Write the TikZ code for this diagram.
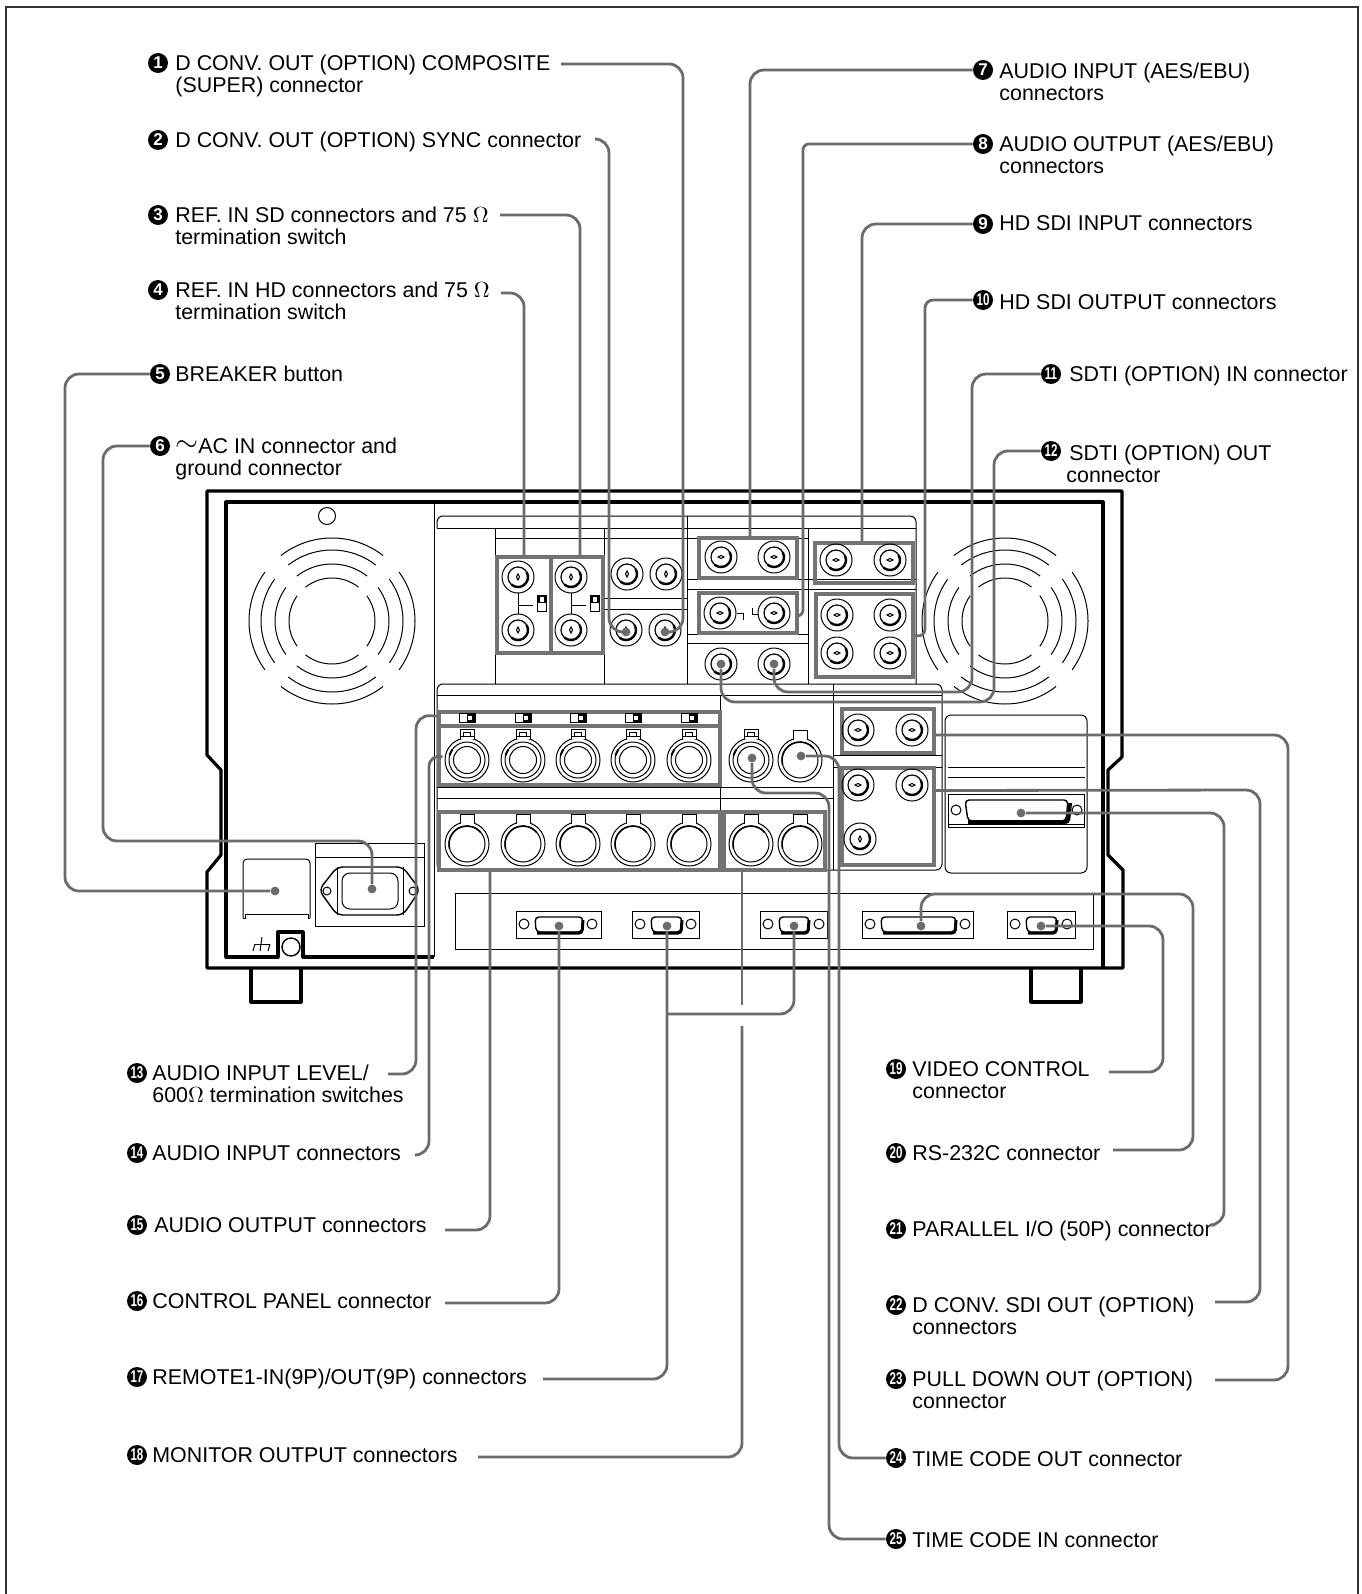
\documentclass[tikz,border=0pt]{standalone}
\usepackage{fontspec}
\setmainfont{Liberation Sans}
\usetikzlibrary{fit}
\definecolor{leadergray}{gray}{0.42}
\definecolor{boxgray}{gray}{0.45}
\tikzstyle{lab} = [anchor=north west, 
inner sep=0pt, 
yshift=4pt, 
align=left, 
font=\fontsize{10.7}{11}\selectfont, 
execute at begin node=\strut]
\tikzstyle{bullet} = [circle, 
fill=black, 
text=white, 
inner sep=0pt, 
minimum size=10pt, 
font=\fontsize{8.5}{9}\selectfont\bfseries]
\tikzstyle{enddot} = [circle, 
fill=leadergray, 
inner sep=0pt, 
minimum size=4.4pt]
\tikzstyle{greybox} = [rectangle, 
draw=boxgray, 
line width=1.6pt, 
inner sep=0pt]
\tikzstyle{leader} = [draw=leadergray, 
line width=1.4pt, 
rounded corners=7pt]
\tikzstyle{thinline} = [line width=0.5pt]
\tikzstyle{heavy} = [line width=1.6pt, line join=round]
\newcommand{\nn}[1]{\scalebox{0.68}[1]{#1}}
\newcommand{\bnc}[3]{
\draw [thinline] (#1,#2) circle [radius=16];
\draw [line width=0.6pt] (#1,#2) circle [radius=10];
\draw [line width=1.2pt] (#1,#2) ++(-30:10) arc [start angle=-30, end angle=130, radius=10];
\draw [thinline, shift={(#1,#2)}, rotate=#3] (-3,0) -- (0,-1.5) -- (3,0) -- (0,1.5) -- cycle;
}
\newcommand{\xlrtop}[2]{
\draw [thinline] (#1,#2) circle [radius=22];
\draw [thinline] (#1,#2) circle [radius=18];
\draw [thinline] (#1,#2) circle [radius=13.5];
\draw [thinline, fill=white] (#1-7,#2-21) -- (#1-7,#2-31) -- (#1+7,#2-31) -- (#1+7,#2-21);
\draw [thinline] (#1-3.5,#2-28) rectangle (#1+3.5,#2-24);
\draw [line width=1pt] (#1,#2) ++(195:18) arc [start angle=195, end angle=215, radius=18];
\draw [thinline] (#1-7,#2+7-31) -- (#1+7,#2+7-31);
}
\newcommand{\xlrbot}[2]{
\draw [thinline] (#1,#2) circle [radius=22];
\draw [thinline] (#1,#2) circle [radius=18];
\draw [line width=0.8pt] (#1,#2) ++(165:18) arc [start angle=165, end angle=320, radius=18];
\draw [thinline, fill=white] (#1-7,#2-20) -- (#1-7,#2-30) -- (#1+7,#2-30) -- (#1+7,#2-20);
}
\newcommand{\hswitch}[2]{
\draw [thinline] (#1-8,#2-4.5) rectangle (#1+8,#2+4.5);
\fill (#1,#2-4.5) rectangle (#1+8,#2+4.5);
\fill [white] (#1+1,#2-2.5) rectangle (#1+5,#2+1.5);
}
\newcommand{\vswitch}[2]{
\draw [thinline] (#1-4.5,#2-8) rectangle (#1+4.5,#2+8);
\fill (#1-4.5,#2-8) rectangle (#1+4.5,#2);
\fill [white] (#1-2.5,#2-6) rectangle (#1+1.5,#2-1.5);
}
\newcommand{\dport}[6]{
\draw [thinline] (#1,911) rectangle (#2,938);
\draw [thinline] (#3,924) circle [radius=5];
\draw [thinline] (#4,924) circle [radius=5];
\draw [line width=0.7pt, rounded corners=2pt] (#5,917) -- (#6,917) -- (#6-1,932) -- (#5+1,932) -- cycle;
\draw [line width=1.5pt, rounded corners=1.5pt] (#5+2,933) -- (#6-1,933) -- (#6,920);
}
\newcommand{\fanring}[3]{
\draw [thinline] (#1,#2) ++(52:#3) arc [start angle=52, end angle=128, radius=#3];
\draw [thinline] (#1,#2) ++(232:#3) arc [start angle=232, end angle=308, radius=#3];
\draw [thinline] (#1,#2) ++(-36:#3) arc [start angle=-36, end angle=36, radius=#3];
\draw [thinline] (#1,#2) ++(144:#3) arc [start angle=144, end angle=216, radius=#3];
}
\newcommand{\fan}[2]{
\fanring{#1}{#2}{83}
\fanring{#1}{#2}{71}
\fanring{#1}{#2}{57}
\fanring{#1}{#2}{43}
}

\begin{document}
\begin{tikzpicture}[x=0.5pt,y=-0.5pt]
\useasboundingbox (0,0) rectangle (1361,1594);

% Frame
\draw [line width=0.8pt,draw=black!80] (6,1594) -- (6,7) -- (1358,7) -- (1358,1594);

% Body
\draw [heavy] (207,968) -- (207,872) -- (221,855) -- (221,770) -- (207,755) -- (207,491) -- (1122,491) -- (1122,757) -- (1108,770) -- (1108,855) -- (1123,870) -- (1123,968) -- cycle;
\draw [heavy] (1103,968) -- (1103,502) -- (226,502) -- (226,957) -- (278,957) -- (278,932) -- (303,932) -- (303,957) -- (434,957);
\draw [thinline] (434,502) -- (434,957);
\draw [heavy] (251,968) -- (251,1002) -- (301,1002) -- (301,968);
\draw [heavy] (1031,968) -- (1031,1002) -- (1081,1002) -- (1081,968);
\draw [thinline] (327,516) circle [radius=8.5];
\fan{332}{621}
\fan{1005}{621}

% Upper panel
\draw [thinline, rounded corners=3pt] (437,528) -- (437,516) -- (916,516) -- (916,684);
\draw [thinline] (437,528) -- (916,528);
\draw [thinline] (495,528) -- (495,684);
\draw [thinline] (604,528) -- (604,684);
\draw [thinline] (687,516) -- (687,684);
\draw [thinline] (808,528) -- (808,684);
\draw [thinline] (495,538) -- (808,538);
\draw [thinline] (604,598) -- (687,598);
\draw [thinline] (604,609) -- (687,609);
\draw [thinline] (687,579) -- (916,579);
\draw [thinline] (687,589) -- (916,589);
\draw [thinline] (687,634) -- (808,634);
\draw [thinline] (687,643) -- (808,643);
\node (boxrefhd) [greybox, fit={(497,557) (551,653)}] {};
\node (boxrefsd) [greybox, fit={(551,557) (603,653)}] {};
\node (boxaudioin) [greybox, fit={(699,538) (797,578)}] {};
\node (boxaudioout) [greybox, fit={(699,593) (797,633)}] {};
\node (boxhdin) [greybox, fit={(815,543) (913,583)}] {};
\node (boxhdout) [greybox, fit={(816,594) (913,677)}] {};
\bnc{518}{577}{90}
\bnc{518}{630}{90}
\bnc{571}{577}{90}
\bnc{571}{630}{90}
\bnc{627}{574}{90}
\bnc{666}{574}{90}
\bnc{626}{630}{90}
\bnc{665}{630}{90}
\bnc{721}{557}{0}
\bnc{774}{557}{0}
\bnc{720}{613}{0}
\bnc{774}{613}{0}
\bnc{836}{560}{0}
\bnc{890}{560}{0}
\bnc{837}{615}{0}
\bnc{890}{615}{0}
\bnc{837}{653}{0}
\bnc{890}{653}{0}
\bnc{721}{664}{0}
\bnc{774}{664}{0}
\vswitch{542}{603}
\vswitch{595}{603}
\draw [thinline] (518,593) -- (518,614);
\draw [thinline] (518,605) -- (533,605);
\draw [thinline] (571,593) -- (571,614);
\draw [thinline] (571,605) -- (586,605);
\draw [thinline] (737,613) -- (743,613) -- (743,620);
\draw [thinline] (752,608) -- (752,614) -- (758,614);

% Lower panel
\draw [thinline, rounded corners=3pt] (437,870) -- (437,684) -- (942,684) -- (942,870) -- cycle;
\draw [thinline] (437,695) -- (942,695);
\draw [thinline] (720,695) -- (720,870);
\draw [thinline] (833,684) -- (833,870);
\draw [thinline] (437,787) -- (833,787);
\draw [thinline] (437,798) -- (833,798);
\draw [thinline] (833,755) -- (942,755);
\draw [thinline] (833,767) -- (942,767);
\node (boxlevel) [greybox, fit={(439,712) (720,726)}] {};
\node (boxxlrin) [greybox, fit={(439,726) (720,785)}] {};
\node (boxxlrout) [greybox, fit={(439,812) (720,870)}] {};
\node (boxmonitor) [greybox, fit={(724,812) (825,870)}] {};
\node (boxpulldown) [greybox, fit={(842,709) (934,753)}] {};
\node (boxdsdi) [greybox, fit={(842,768) (934,865)}] {};
\hswitch{467}{718}
\hswitch{523}{718}
\hswitch{578}{718}
\hswitch{633}{718}
\hswitch{689}{718}
\xlrtop{467}{760}
\xlrtop{523}{760}
\xlrtop{578}{760}
\xlrtop{633}{760}
\xlrtop{689}{760}
\xlrtop{751}{760}
\xlrbot{800}{760}
\xlrbot{467}{844}
\xlrbot{523}{844}
\xlrbot{578}{844}
\xlrbot{633}{844}
\xlrbot{689}{844}
\xlrbot{751}{844}
\xlrbot{800}{844}
\bnc{858}{730}{0}
\bnc{912}{730}{0}
\bnc{858}{785}{0}
\bnc{912}{785}{0}
\bnc{860}{839}{90}

% Parallel panel
\draw [thinline, rounded corners=3pt] (945,715) rectangle (1087,873);
\draw [thinline] (948,767) -- (1085,767);
\draw [thinline] (948,777) -- (1085,777);
\draw [thinline] (948,794) rectangle (1084,827);
\draw [thinline] (948,824) -- (1084,824);
\draw [thinline] (956,810) circle [radius=5];
\draw [thinline] (1077,810) circle [radius=5];
\draw [line width=0.7pt, rounded corners=2pt] (965,800) -- (1068,800) -- (1066,821) -- (968,821) -- cycle;
\draw [line width=2pt, rounded corners=1.5pt] (968,822) -- (1068,822) -- (1070,803);

% Rear connectors
\draw [thinline] (455,893) rectangle (1093,949);
\dport{516}{601}{524}{592}{535}{583}
\dport{632}{699}{640}{691}{651}{682}
\dport{760}{827}{768}{819}{779}{809}
\dport{862}{973}{870}{965}{881}{956}
\dport{1007}{1075}{1015}{1067}{1026}{1057}

% Power
\draw [thinline, rounded corners=2pt] (243,918) -- (243,859) -- (310,859) -- (310,918);
\draw [thinline] (243,918) -- (245,918) -- (245,914) -- (308,914) -- (308,918) -- (310,918);
\draw [thinline] (315,843) rectangle (424,926);
\draw [thinline] (315,857) -- (424,857);
\draw [line width=0.7pt, rounded corners=3pt] (337,867) -- (403,867) -- (420,890) -- (403,915) -- (337,915) -- (319,890) -- cycle;
\draw [thinline] (337,867) -- (337,915);
\draw [thinline] (403,867) -- (403,915);
\draw [thinline, rounded corners=4pt] (342,873) rectangle (398,909);
\draw [thinline] (327,891) circle [radius=4];
\draw [thinline] (413,891) circle [radius=4];
\draw [line width=0.7pt] (291,947) circle [radius=9];
\draw [thinline] (255,944) -- (270,944);
\draw [thinline] (262,937) -- (260,951);
\draw [thinline] (255,944) -- (253,951);
\draw [thinline] (270,944) -- (268,951);

% Nodes
\node (compositenum) [bullet] at (158,63) {1};
\node (composite) [lab] at (175,63) {D CONV. OUT (OPTION) COMPOSITE\\(SUPER) connector};
\node (syncnum) [bullet] at (158,140) {2};
\node (sync) [lab] at (175,140) {D CONV. OUT (OPTION) SYNC connector};
\node (refsdnum) [bullet] at (158,215) {3};
\node (refsd) [lab] at (175,215) {REF. IN SD connectors and 75 $\Omega$\\termination switch};
\node (refhdnum) [bullet] at (158,290) {4};
\node (refhd) [lab] at (175,290) {REF. IN HD connectors and 75 $\Omega$\\termination switch};
\node (breakernum) [bullet] at (160,374) {5};
\node (breaker) [lab] at (175,374) {BREAKER button};
\node (acinnum) [bullet] at (160,446) {6};
\node (acin) [lab] at (175,446) {\raisebox{1pt}{\scalebox{1.35}{$\sim$}}AC IN connector and\\ground connector};
\node (audioinnum) [bullet] at (983,70) {7};
\node (audioin) [lab] at (999,71) {AUDIO INPUT (AES/EBU)\\connectors};
\node (audiooutnum) [bullet] at (983,144) {8};
\node (audioout) [lab] at (999,144) {AUDIO OUTPUT (AES/EBU)\\connectors};
\node (hdinnum) [bullet] at (983,224) {9};
\node (hdin) [lab] at (999,223) {HD SDI INPUT connectors};
\node (hdoutnum) [bullet] at (983,300) {\nn{10}};
\node (hdout) [lab] at (999,302) {HD SDI OUTPUT connectors};
\node (sdtiinnum) [bullet] at (1051,374) {\nn{11}};
\node (sdtiin) [lab] at (1069,374) {SDTI (OPTION) IN connector};
\node (sdtioutnum) [bullet] at (1051,451) {\nn{12}};
\node (sdtiout) [lab] at (1069,453) {SDTI (OPTION) OUT\\\hspace*{-1.5pt}connector};
\node (levelnum) [bullet] at (137,1073) {\nn{13}};
\node (level) [lab] at (152,1073) {AUDIO INPUT LEVEL/\\600$\Omega$ termination switches};
\node (xlrinnum) [bullet] at (137,1153) {\nn{14}};
\node (xlrin) [lab] at (152,1153) {AUDIO INPUT connectors};
\node (xlroutnum) [bullet] at (137,1225) {\nn{15}};
\node (xlrout) [lab] at (154,1225) {AUDIO OUTPUT connectors};
\node (panelnum) [bullet] at (137,1301) {\nn{16}};
\node (panel) [lab] at (152,1301) {CONTROL PANEL connector};
\node (remotenum) [bullet] at (137,1377) {\nn{17}};
\node (remote) [lab] at (152,1377) {REMOTE1-IN(9P)/OUT(9P) connectors};
\node (monitornum) [bullet] at (137,1455) {\nn{18}};
\node (monitor) [lab] at (152,1455) {MONITOR OUTPUT connectors};
\node (videonum) [bullet] at (896,1069) {\nn{19}};
\node (video) [lab] at (912,1069) {VIDEO CONTROL\\connector};
\node (rsnum) [bullet] at (896,1153) {\nn{20}};
\node (rs) [lab] at (912,1153) {RS-232C connector};
\node (parallelnum) [bullet] at (896,1229) {\nn{21}};
\node (parallel) [lab] at (912,1229) {PARALLEL I/O (50P) connector};
\node (dsdinum) [bullet] at (896,1305) {\nn{22}};
\node (dsdi) [lab] at (912,1305) {D CONV. SDI OUT (OPTION)\\connectors};
\node (pulldownnum) [bullet] at (896,1379) {\nn{23}};
\node (pulldown) [lab] at (912,1379) {PULL DOWN OUT (OPTION)\\connector};
\node (tcoutnum) [bullet] at (896,1458) {\nn{24}};
\node (tcout) [lab] at (912,1459) {TIME CODE OUT connector};
\node (tcinnum) [bullet] at (896,1539) {\nn{25}};
\node (tcin) [lab] at (912,1540) {TIME CODE IN connector};

% Leader dots
\node (compositedot) [enddot] at (665,632) {};
\node (syncdot) [enddot] at (626,632) {};
\node (breakerdot) [enddot] at (275,891) {};
\node (acdot) [enddot] at (372,889) {};
\node (sdtiindot) [enddot] at (774,664) {};
\node (sdtioutdot) [enddot] at (721,664) {};
\node (paneldot) [enddot] at (559,926) {};
\node (remotedot) [enddot] at (667,926) {};
\node (remotetwodot) [enddot] at (794,926) {};
\node (videodot) [enddot] at (1041,926) {};
\node (rsdot) [enddot] at (921,926) {};
\node (paralleldot) [enddot] at (1021,813) {};
\node (tcoutdot) [enddot] at (801,756) {};
\node (tcindot) [enddot] at (752,758) {};

% Free ends
\coordinate (compositeend) at (561,64);
\coordinate (syncend) at (595,139);
\coordinate (refsdend) at (500,215);
\coordinate (refhdend) at (501,293);
\coordinate (levelend) at (388,1074);
\coordinate (xlrinend) at (417,1155);
\coordinate (xlroutend) at (445,1230);
\coordinate (panelend) at (445,1303);
\coordinate (remoteend) at (543,1379);
\coordinate (remotejoin) at (667,1014);
\coordinate (monitorend) at (478,1457);
\coordinate (monitorlow) at (742,1026);
\coordinate (monitorhigh) at (742,1005);
\coordinate (videoend) at (1109,1072);
\coordinate (rsend) at (1113,1150);
\coordinate (parallelend) at (1215,1225);
\coordinate (dsdiend) at (1215,1302);
\coordinate (pulldownend) at (1215,1380);

% Arrows
\draw [leader] (compositeend) -- (683,64) -- (683,632) -- (compositedot);
\draw [leader] (syncend) -- (609,139) -- (609,632) -- (syncdot);
\draw [leader] (refsdend) -| ([xshift=1.5pt]boxrefsd.north);
\draw [leader] (refhdend) -| (boxrefhd.north);
\draw [leader] (breakernum) -- (65,374) -- (65,891) -- (breakerdot);
\draw [leader] (acinnum) -- (103,446) -- (103,841) -- (372,841) -- (acdot);
\draw [leader] (audioinnum) -| ([xshift=1pt]boxaudioin.north);
\draw [leader, rounded corners=3pt] (audiooutnum) -- (803,144) -- (803,616) -- ([yshift=-1.5pt]boxaudioout.east);
\draw [leader] (hdinnum) -| ([xshift=-1pt]boxhdin.north);
\draw [leader, rounded corners=4pt] (hdoutnum) -- (925,300) -- (925,637) -- (boxhdout.east);
\draw [leader] (sdtiinnum) -- (972,374) -- (972,692) -- (774,692) -- (sdtiindot);
\draw [leader] (sdtioutnum) -- (994,451) -- (994,702) -- (721,702) -- (sdtioutdot);
\draw [leader] (levelend) -- (416,1074) -- (416,715) -- ([yshift=1.5pt]boxlevel.west);
\draw [leader] (xlrinend) -- (429,1155) -- (429,753) -- (boxxlrin.west);
\draw [leader] (xlroutend) -| ([xshift=-44.75pt]boxxlrout.south);
\draw [leader] (panelend) -| (paneldot);
\draw [leader] (remoteend) -| (remotedot);
\draw [leader] (remotetwodot) |- (remotejoin);
\draw [leader] (monitorend) -| (monitorlow);
\draw [leader] (monitorhigh) -- (monitorhigh |- boxmonitor.south);
\draw [leader] (videoend) -- (1163,1072) -- (1163,926) -- (videodot);
\draw [leader] (rsend) -- (1193,1150) -- (1193,894) -- (921,894) -- (rsdot);
\draw [leader] (parallelend) -- (1224,1225) -- (1224,813) -- (paralleldot);
\draw [leader] (dsdiend) -- (1260,1302) -- (1260,790) -- ([yshift=13pt]boxdsdi.east);
\draw [leader] (pulldownend) -- (1288,1380) -- (1288,735) -- ([yshift=-2pt]boxpulldown.east);
\draw [leader] (tcoutnum) -- (839,1458) -- (839,756) -- (tcoutdot);
\draw [leader] (tcinnum) -- (829,1539) -- (829,793) -- (752,793) -- (tcindot);

\end{tikzpicture}
\end{document}
